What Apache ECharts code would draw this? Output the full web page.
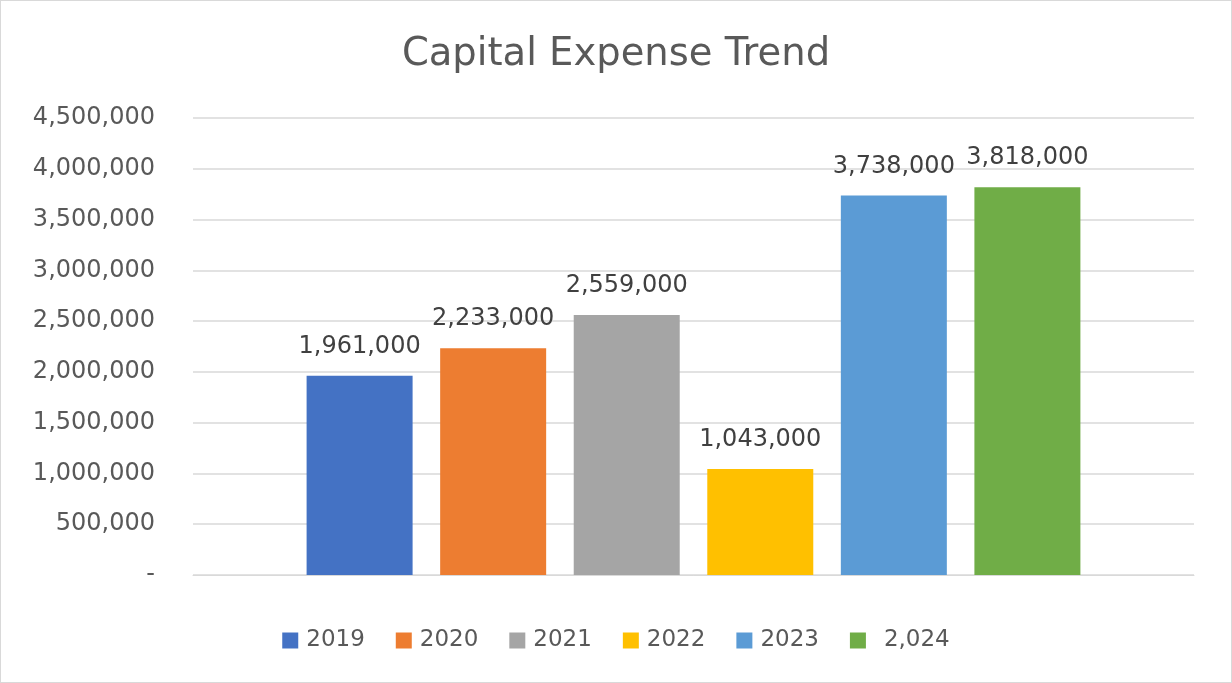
<!DOCTYPE html>
<html>
<head>
<meta charset="utf-8">
<script src="https://cdn.jsdelivr.net/npm/echarts@6/dist/echarts.min.js"></script>
<style>
  html, body { margin: 0; padding: 0; background: #ffffff; }
  #chart { width: 1230px; height: 681px; border: 1px solid #d9d9d9; }
</style>
</head>
<body>
<div id="chart"></div>
<script>
// Capital expense per year, one bar per year
const years = ['2019', '2020', '2021', '2022', '2023', '2,024'];
const expenses = [1961000, 2233000, 2559000, 1043000, 3738000, 3818000];
const colors = ['#4472C4', '#ED7D31', '#A5A5A5', '#FFC000', '#5B9BD5', '#70AD47'];
const category = [''];

const FONT = '"DejaVu Sans", "Open Sans", sans-serif';
const fmt = v => v === 0 ? '-' : v.toLocaleString('en-US');

// the last legend entry carries a formatted-number label with extra lead space
const legendItems = years.map(name => name.includes(',')
  ? { name: name, textStyle: { padding: [0, 0, 0, 13] } }
  : { name: name });

const chart = echarts.init(document.getElementById('chart'));
chart.setOption({
  animation: false,
  color: colors,
  title: {
    text: 'Capital Expense Trend',
    left: 'center',
    top: 29,
    textStyle: { fontFamily: FONT, fontSize: 38.5, fontWeight: 'normal', color: '#595959' }
  },
  legend: {
    top: 623,
    left: 'center',
    itemWidth: 16,
    itemHeight: 16,
    itemGap: 31,
    icon: 'rect',
    textStyle: { fontFamily: FONT, fontSize: 23, color: '#595959', padding: [0, 0, 0, 3] },
    data: legendItems
  },
  grid: { left: 192, right: 37, top: 117, bottom: 107 },
  xAxis: {
    type: 'category',
    data: category,
    axisLine: { lineStyle: { color: '#d9d9d9' } },
    axisTick: { show: false },
    axisLabel: { show: false }
  },
  yAxis: {
    type: 'value',
    min: 0,
    max: 4500000,
    interval: 500000,
    axisLine: { show: false },
    axisTick: { show: false },
    axisLabel: { formatter: fmt, margin: 38, fontFamily: FONT, fontSize: 24, color: '#595959' },
    splitLine: { lineStyle: { color: '#d9d9d9', width: 1.5 } }
  },
  series: years.map((name, i) => ({
    name: name,
    type: 'bar',
    barWidth: 106,
    barGap: '26%',
    data: [expenses[i]],
    itemStyle: { color: colors[i] },
    label: {
      show: true,
      position: 'top',
      distance: 17,
      formatter: p => fmt(p.value),
      fontFamily: FONT,
      fontSize: 24,
      color: '#404040'
    }
  }))
});
</script>
</body>
</html>
